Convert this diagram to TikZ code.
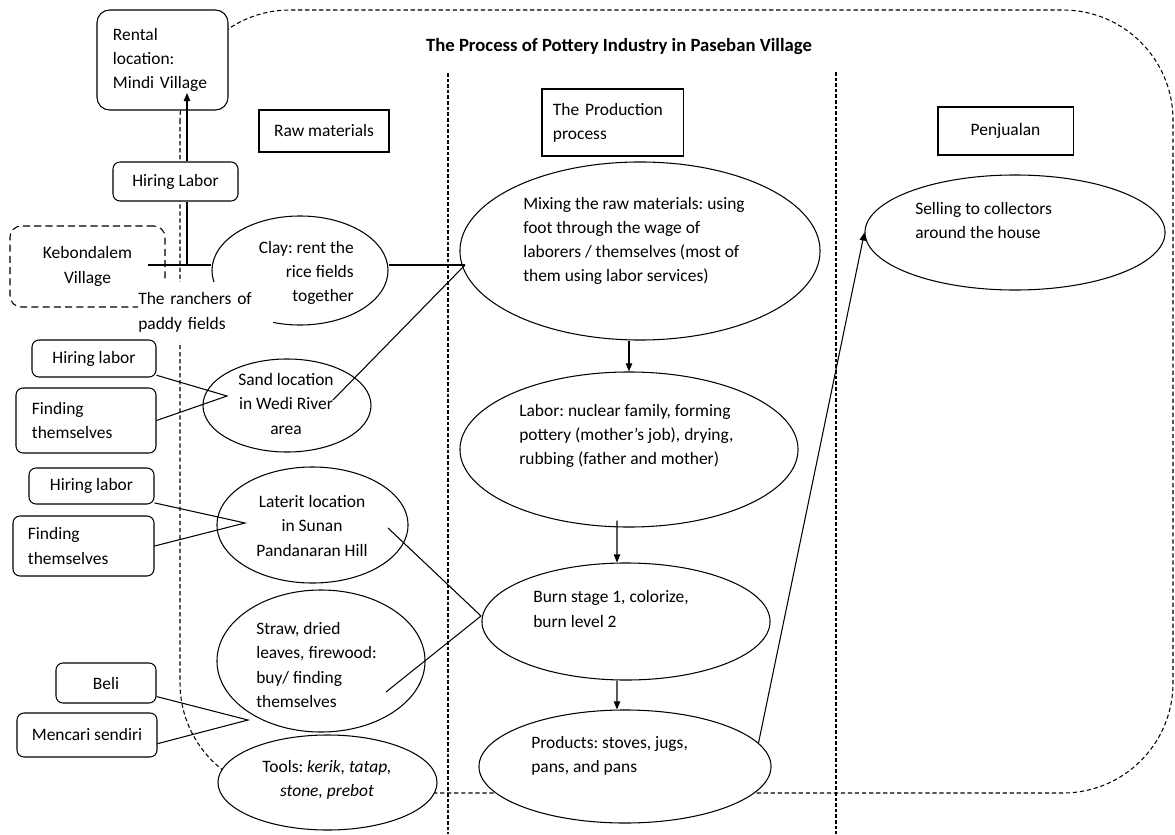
\documentclass[tikz,border=0pt]{standalone}
\usepackage{fontspec}
\setmainfont{Carlito}
\usepackage{tikz}
\usetikzlibrary{positioning,arrows.meta,shapes.geometric}
\frenchspacing
\newcommand{\diagfont}{\fontsize{12.4}{17.2}\selectfont}
\tikzset{
  ebox/.style    = {draw, ellipse, fill=white, inner sep=0pt, line width=0.75pt},
  rbox/.style    = {draw, rounded corners=5pt, fill=white, align=center, inner sep=0pt, line width=0.75pt, font=\diagfont},
  hbox/.style    = {draw, fill=white, align=center, inner sep=0pt, line width=0.75pt, font=\diagfont},
  txt/.style     = {inner sep=0pt, font=\diagfont},
  link/.style    = {line width=0.75pt},
  flow/.style    = {link, -{Triangle[length=2mm,width=1.6mm]}},
  outline/.style = {line width=0.75pt, dash pattern=on 3pt off 2pt},
  divider/.style = {line width=0.75pt, dash pattern=on 2.5pt off 1.5pt},
}

\begin{document}
\begin{tikzpicture}[x=0.025cm, y=-0.025cm]
  \useasboundingbox (0,0) rectangle (1175,834);
  % frame and column lines
  \draw[outline, rounded corners=2.75cm] (180,10) rectangle (1173,793);
  \draw[divider] (448,73) -- (448,834);
  \draw[divider] (836,72) -- (836,834);
  \node[txt, font=\fontsize{13.3}{16}\selectfont\bfseries] (title) at (619,47) {The Process of Pottery Industry in Paseban Village};

  % column heads
  \node[hbox, minimum width=3.25cm, minimum height=1.05cm] (raw) at (324,131) {Raw materials};
  \node[hbox, minimum width=3.525cm, minimum height=1.675cm, text width=2.975cm, align=left] (prodhead) at (612.5,122.5) {The Production\\process};
  \node[hbox, minimum width=3.375cm, minimum height=1.2cm] (penj) at (1005.5,131) {Penjualan};

  % raw materials: clay
  \node[rbox, rounded corners=9pt, minimum width=3.275cm, minimum height=2.5cm, text width=2.475cm, align=left] (rental) at (162.5,60) {Rental\\location:\\Mindi Village};
  \node[rbox, minimum width=3.125cm, minimum height=0.975cm] (hire) at (175.5,181.5) {Hiring Labor};
  \node[rbox, dash pattern=on 5pt off 3pt, rounded corners=8pt, minimum width=3.875cm, minimum height=2.025cm] (keb) at (87.5,266.5) {Kebondalem\\Village};
  \node[ebox, minimum width=4.4cm, minimum height=2.725cm] (clay) at (300,270.5) {};
  \node[txt, align=right, anchor=east] (clay-t) at (354,273) {Clay: rent the\\rice fields\\together};
  \node[txt, fill=white, text width=3.375cm, minimum height=1.5cm, align=left, anchor=north west] (ranch) at (138,282) {The ranchers of\\paddy fields};
  \coordinate (kebend) at (148,265);
  \coordinate (fork) at (187,265);
  \coordinate (rentin) at (187,93);
  \draw[link] (kebend) -- (kebend -| clay.west);
  \draw[link] (fork) -- (fork |- hire.south);
  \draw[flow] (fork |- hire.north) -- (rentin);

  % sand
  \node[ebox, minimum width=4.2cm, minimum height=2.325cm] (sand) at (287,405.5) {};
  \node[txt, align=center] (sand-t) at (286,404) {Sand location\\in Wedi River\\area};
  \node[rbox, minimum width=3.1cm, minimum height=0.925cm] (hire1) at (94,358.5) {Hiring labor};
  \node[rbox, minimum width=3.5cm, minimum height=1.625cm, text width=2.7cm, align=left] (find1) at (86,420.5) {Finding\\themselves};
  \coordinate (sandtip) at (227,396);
  \draw[link] (hire1.-15) -- (sandtip) -- (find1.east);

  % laterit
  \node[ebox, minimum width=4.775cm, minimum height=2.9cm] (lat) at (312.5,525) {};
  \node[txt, align=center] (lat-t) at (312,526) {Laterit location\\in Sunan\\Pandanaran Hill};
  \node[rbox, minimum width=3.125cm, minimum height=0.9cm] (hire2) at (91.5,486) {Hiring labor};
  \node[rbox, minimum width=3.525cm, minimum height=1.5cm, text width=2.775cm, align=left] (find2) at (83.5,546) {Finding\\themselves};
  \coordinate (lattip) at (245,523);
  \draw[link] (hire2.-15) -- (lattip) -- (find2.east);

  % straw and tools
  \node[ebox, minimum width=5.2cm, minimum height=3.55cm] (straw) at (321,661) {};
  \node[txt, align=left, anchor=west] (straw-t) at (256,665) {Straw, dried\\leaves, firewood:\\buy/ finding\\themselves};
  \node[rbox, minimum width=2.5cm, minimum height=1cm] (beli) at (106,683) {Beli};
  \node[rbox, minimum width=3.5cm, minimum height=1.1cm] (cari) at (87,735) {Mencari sendiri};
  \coordinate (strawtip) at (248,720);
  \draw[link] (beli.-15) -- (strawtip) -- (cari.-7);
  \node[ebox, minimum width=5.475cm, minimum height=2.375cm] (tools) at (327.5,782.5) {};
  \node[txt, align=center] (tools-t) at (327,780) {Tools: \textit{kerik, tatap,}\\\textit{stone, prebot}};

  % production process
  \node[ebox, minimum width=9cm, minimum height=4.45cm] (mix) at (640,251) {};
  \node[txt, align=left, anchor=west] (mix-t) at (523,241) {Mixing the raw materials: using\\foot through the wage of\\laborers / themselves (most of\\them using labor services)};
  \node[ebox, minimum width=8.45cm, minimum height=3.875cm] (labor) at (629,449.5) {};
  \node[txt, align=left, anchor=west] (labor-t) at (519,436) {Labor: nuclear family, forming\\pottery (mother’s job), drying,\\rubbing (father and mother)};
  \node[ebox, minimum width=7.2cm, minimum height=2.925cm] (burn) at (626,621.5) {};
  \node[txt, align=left, anchor=west] (burn-t) at (533,609) {Burn stage 1, colorize,\\burn level 2};
  \node[ebox, minimum width=7.3cm, minimum height=2.825cm] (prod) at (625,766.5) {};
  \node[txt, align=left, anchor=west] (prod-t) at (531,756) {Products: stoves, jugs,\\pans, and pans};

  % selling
  \node[ebox, minimum width=7.5cm, minimum height=2.875cm] (sell) at (1015,232.5) {};
  \node[txt, align=left, anchor=west] (sell-t) at (915,220.5) {Selling to collectors\\around the house};

  % materials into the process
  \coordinate (mixin) at (465,265);
  \coordinate (sandout) at (333,400);
  \coordinate (latout) at (388,528);
  \coordinate (strawout) at (386,692);
  \coordinate (burnin) at (481,616);
  \draw[link] (clay.east |- mixin) -- (mixin);
  \draw[link] (sandout) -- (mixin);
  \draw[link] (latout) -- (burnin);
  \draw[link] (strawout) -- (burnin);

  % process steps
  \draw[flow] (mix.south -| labor.north) -- (labor.north);
  \draw[flow] ([xshift=-0.3cm,yshift=0.175cm]labor.south) -- ([xshift=-0.225cm]burn.north);
  \draw[flow] ([xshift=-0.225cm]burn.south) -- ([xshift=-0.2cm]prod.north);
  \draw[flow] (prod.10) -- (sell.west);
\end{tikzpicture}
\end{document}
